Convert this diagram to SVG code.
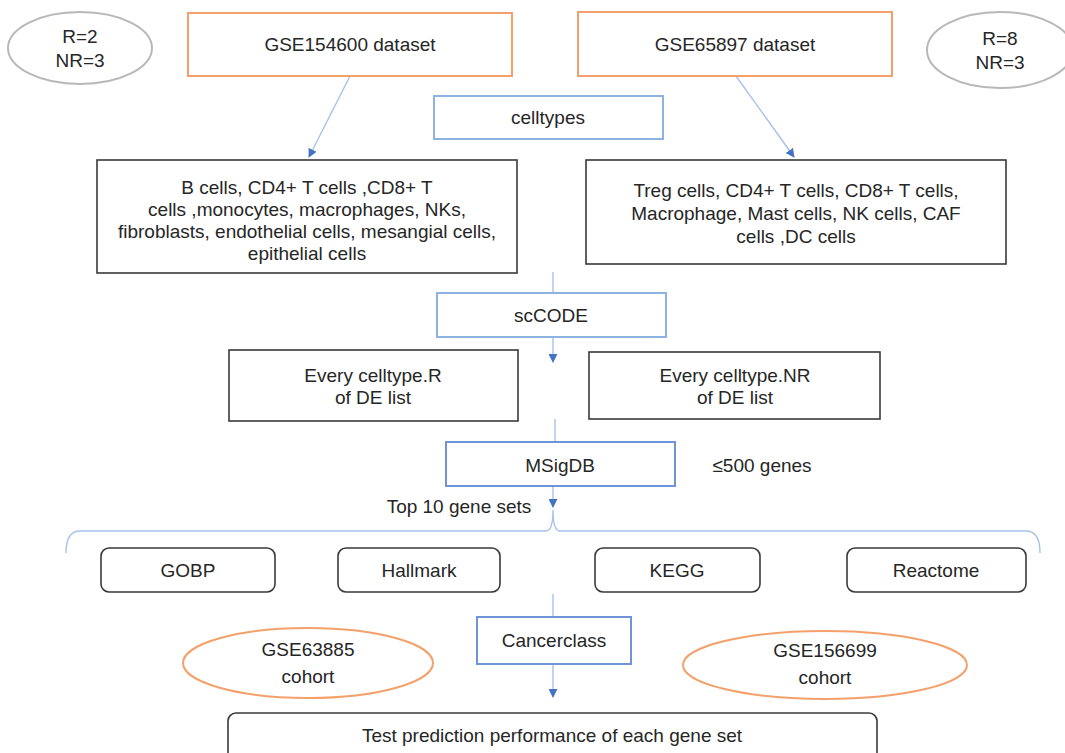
<svg xmlns="http://www.w3.org/2000/svg" width="1065" height="753" viewBox="0 0 1065 753">
<style>
text{font-family:"Liberation Sans",Arial,sans-serif;font-size:19px;fill:#262626;text-anchor:middle}
.or{fill:#fff;stroke:#f4a06a;stroke-width:2}
.bl{fill:#fff;stroke:#8db3e2;stroke-width:2}
.bl2{fill:#fff;stroke:#6f94d8;stroke-width:2}
.bk{fill:#fff;stroke:#3a3a3a;stroke-width:1.6}
.gr{fill:#fff;stroke:#b8b8b8;stroke-width:2}
.ln{fill:none;stroke:#a6c2ea;stroke-width:1.4}
</style>
<defs>
<marker id="ah" viewBox="0 0 10 10" refX="9" refY="5" markerWidth="9" markerHeight="9" markerUnits="userSpaceOnUse" orient="auto">
<path d="M0,0 L10,5 L0,10 z" fill="#4472c4"/>
</marker>
</defs>
<rect width="1065" height="753" fill="#fff"/>
<g id="connectors">
<line class="ln" x1="350" y1="76" x2="309" y2="157" marker-end="url(#ah)"/>
<line class="ln" x1="736" y1="76" x2="794" y2="157" marker-end="url(#ah)"/>
<line class="ln" x1="553" y1="272" x2="553" y2="293"/>
<line class="ln" x1="553" y1="337" x2="553" y2="362" marker-end="url(#ah)"/>
<line class="ln" x1="555" y1="419" x2="555" y2="442"/>
<line class="ln" x1="553" y1="486" x2="553" y2="507" marker-end="url(#ah)"/>
<path class="ln" d="M66,553 Q66,531 80,531 L546,531 Q553,531 553,510 Q553,531 560,531 L1026,531 Q1040,531 1040,553"/>
<line class="ln" x1="553" y1="594" x2="553" y2="617"/>
<line class="ln" x1="553" y1="664" x2="553" y2="697" marker-end="url(#ah)"/>
</g>
<g id="n_ell1"><ellipse class="gr" cx="80" cy="48" rx="72" ry="36"/><text x="80" y="43">R=2</text><text x="80" y="67">NR=3</text></g>
<g id="n_ell2"><ellipse class="gr" cx="1000" cy="50" rx="73" ry="38"/><text x="1000" y="45">R=8</text><text x="1000" y="69">NR=3</text></g>
<g id="n_gse154600"><rect class="or" x="188" y="13" width="324" height="63"/><text x="350" y="51">GSE154600 dataset</text></g>
<g id="n_gse65897"><rect class="or" x="578" y="12" width="314" height="64"/><text x="735" y="51">GSE65897 dataset</text></g>
<g id="n_celltypes"><rect class="bl" x="434" y="96" width="229" height="43"/><text x="548" y="124">celltypes</text></g>
<g id="n_left_cells"><rect class="bk" x="97" y="160" width="420" height="113"/>
<text x="307" y="194">B cells, CD4+ T cells ,CD8+ T</text>
<text x="307" y="216">cells ,monocytes, macrophages, NKs,</text>
<text x="307" y="238">fibroblasts, endothelial cells, mesangial cells,</text>
<text x="307" y="260">epithelial cells</text></g>
<g id="n_right_cells"><rect class="bk" x="586" y="160" width="420" height="104"/>
<text x="796" y="197">Treg cells, CD4+ T cells, CD8+ T cells,</text>
<text x="796" y="220">Macrophage, Mast cells, NK cells, CAF</text>
<text x="796" y="243">cells ,DC cells</text></g>
<g id="n_sccode"><rect class="bl" x="437" y="293" width="229" height="44"/><text x="551" y="322">scCODE</text></g>
<g id="n_R"><rect class="bk" x="229" y="350" width="289" height="71"/><text x="373" y="382">Every celltype.R</text><text x="373" y="404">of DE list</text></g>
<g id="n_NR"><rect class="bk" x="589" y="352" width="291" height="67"/><text x="735" y="382">Every celltype.NR</text><text x="735" y="404">of DE list</text></g>
<g id="n_msigdb"><rect class="bl2" x="446" y="442" width="229" height="44"/><text x="560" y="472">MSigDB</text></g>
<text x="762" y="472">≤500 genes</text>
<text x="459" y="513">Top 10 gene sets</text>
<g id="n_gobp"><rect class="bk" x="101" y="548" width="174" height="44" rx="8"/><text x="188" y="577">GOBP</text></g>
<g id="n_hallmark"><rect class="bk" x="338" y="548" width="162" height="44" rx="8"/><text x="419" y="577">Hallmark</text></g>
<g id="n_kegg"><rect class="bk" x="595" y="548" width="165" height="44" rx="8"/><text x="677" y="577">KEGG</text></g>
<g id="n_reactome"><rect class="bk" x="847" y="548" width="179" height="44" rx="8"/><text x="936" y="577">Reactome</text></g>
<g id="n_cancerclass"><rect class="bl2" x="477" y="617" width="154" height="47"/><text x="554" y="647">Cancerclass</text></g>
<g id="n_gse63885"><ellipse class="or" cx="308" cy="663" rx="125" ry="35"/><text x="308" y="656">GSE63885</text><text x="308" y="683">cohort</text></g>
<g id="n_gse156699"><ellipse class="or" cx="825" cy="665" rx="142" ry="34"/><text x="825" y="657">GSE156699</text><text x="825" y="684">cohort</text></g>
<g id="n_test"><rect class="bk" x="228" y="713" width="649" height="60" rx="8"/><text x="552" y="742">Test prediction performance of each gene set</text></g>
</svg>
